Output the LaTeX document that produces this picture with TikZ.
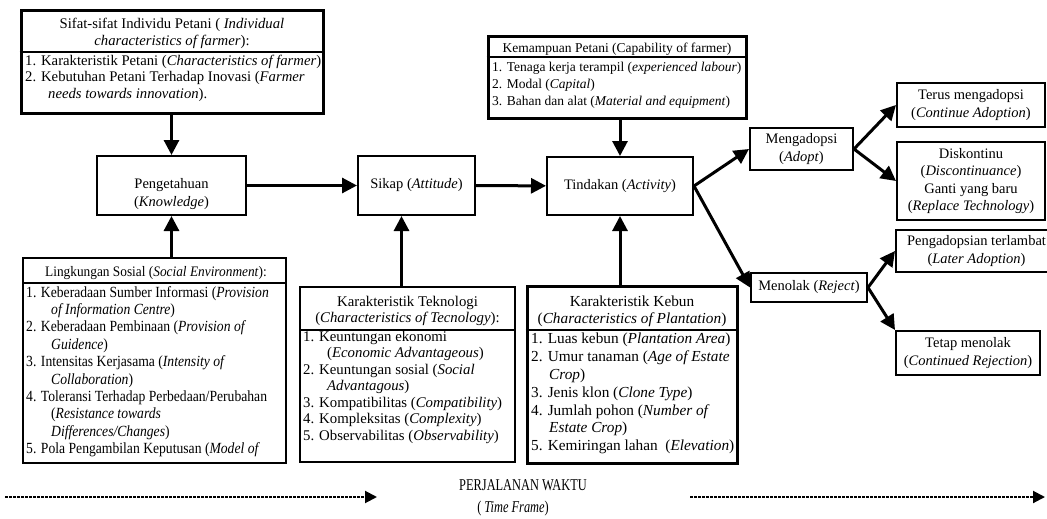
\documentclass[tikz,border=0pt]{standalone}
\usepackage{fontspec}
\setmainfont{Liberation Serif}
\usetikzlibrary{arrows.meta}
\newcommand{\fsz}[2]{\fontsize{#1}{#2}\selectfont}
\newcommand{\narrow}[1]{\addfontfeature{FakeStretch=#1}}
\begin{document}
\begin{tikzpicture}[x=1pt,y=-1pt,
  box/.style={draw,line width=2pt,inner sep=0pt},
  heavy/.style={box,line width=3pt},
  txt/.style={inner sep=0pt,align=center,font=\fsz{14.5}{17.5}},
  lst/.style={inner sep=0pt,align=left,anchor=north west},
  rule/.style={line width=1.2pt},
  arr/.style={line width=3pt,-{Triangle[length=15pt,width=15pt]}},
  tarr/.style={line width=2pt,dash pattern=on 3pt off 1pt,-{Triangle[length=12pt,width=12pt]}}]
\useasboundingbox (0,0) rectangle (1047,519);
\clip (0,0) rectangle (1047,519);
\node[heavy,minimum width=302pt,minimum height=102pt] (sifat) at (172,62) {};
\node[txt,font=\fsz{14.7}{16.7},anchor=north] (sifath) at (172,18) {Sifat-sifat Individu Petani ( \textit{Individual}\\\textit{characteristics of farmer}):};
\draw[rule] (sifat.west |- 0,52) -- (sifat.east |- 0,52);
\node[lst,font=\fsz{14.7}{16.3}] (sifatl) at (25,55) {1. Karakteristik Petani (\textit{Characteristics of farmer})\\2. Kebutuhan Petani Terhadap Inovasi (\textit{Farmer}\\\hspace*{23pt}\textit{needs towards innovation}).};
\node[box,minimum width=149pt,minimum height=59pt] (know) at (171.5,185.5) {};
\node[txt,font=\fsz{14.5}{18}] (knowt) at (171.5,194) {Pengetahuan\\(\textit{Knowledge})};
\node[box,txt,minimum width=117pt,minimum height=59pt] (sikap) at (416.5,185.5) {Sikap (\textit{Attitude})};
\node[box,txt,minimum width=146pt,minimum height=58pt] (tindakan) at (620,186) {Tindakan (\textit{Activity})};
\node[heavy,minimum width=258pt,minimum height=81pt] (mampu) at (617,77.5) {};
\node[txt,font=\fsz{13.5}{16},anchor=north] (mampuh) at (617,42.8) {Kemampuan Petani (Capability of farmer)};
\draw[rule] (mampu.west |- 0,57) -- (mampu.east |- 0,57);
\node[lst,font=\fsz{13.5}{17}] (mampul) at (492,61.8) {1. Tenaga kerja terampil (\textit{experienced labour})\\2. Modal (\textit{Capital})\\3. Bahan dan alat (\textit{Material and equipment})};
\node[box,txt,minimum width=103pt,minimum height=42pt] (adopsi) at (801.5,149) {Mengadopsi\\(\textit{Adopt})};
\node[box,txt,minimum width=148pt,minimum height=44pt] (terus) at (971,105) {Terus mengadopsi\\(\textit{Continue Adoption})};
\node[box,txt,minimum width=148pt,minimum height=78pt] (diskon) at (971,181) {Diskontinu\\(\textit{Discontinuance})\\Ganti yang baru\\(\textit{Replace Technology})};
\node[box,txt,minimum width=161pt,minimum height=42pt] (lambat) at (976.5,251) {Pengadopsian terlambat\\(\textit{Later Adoption})};
\node[box,txt,minimum width=116pt,minimum height=29pt] (tolak) at (809,287.5) {Menolak (\textit{Reject})};
\node[box,txt,minimum width=144pt,minimum height=44pt] (tetap) at (968,353) {Tetap menolak\\(\textit{Continued Rejection})};
\node[box,minimum width=263pt,minimum height=205pt] (sosial) at (154.5,360.5) {};
\node[txt,font=\fsz{14.5}{16}\narrow{0.92},anchor=north] (sosialh) at (156,266.5) {Lingkungan Sosial (\textit{Social Environment}):};
\draw[rule] (sosial.west |- 0,283) -- (sosial.east |- 0,283);
\node[lst,font=\fsz{15.5}{17.4}\narrow{0.88}] (sosiall) at (26,286) {1. Keberadaan Sumber Informasi (\textit{Provision}\\\hspace*{25pt}\textit{of Information Centre})\\2. Keberadaan Pembinaan (\textit{Provision of}\\\hspace*{25pt}\textit{Guidence})\\3. Intensitas Kerjasama (\textit{Intensity of}\\\hspace*{25pt}\textit{Collaboration})\\4. Toleransi Terhadap Perbedaan/Perubahan\\\hspace*{25pt}(\textit{Resistance towards}\\\hspace*{25pt}\textit{Differences/Changes})\\5. Pola Pengambilan Keputusan (\textit{Model of}};
\node[box,minimum width=215pt,minimum height=175pt] (tekno) at (407.5,374.5) {};
\node[txt,font=\fsz{14.8}{16},anchor=north] (teknoh) at (407.5,296) {Karakteristik Teknologi\\(\textit{Characteristics of Tecnology}):};
\draw[rule] (tekno.west |- 0,330) -- (tekno.east |- 0,330);
\node[lst,font=\fsz{14.8}{16.5}] (teknol) at (303,331) {1. Keuntungan ekonomi\\\hspace*{24pt}(\textit{Economic Advantageous})\\2. Keuntungan sosial (\textit{Social}\\\hspace*{24pt}\textit{Advantagous})\\3. Kompatibilitas (\textit{Compatibility})\\4. Kompleksitas (\textit{Complexity})\\5. Observabilitas (\textit{Observability})};
\node[heavy,minimum width=210pt,minimum height=177pt] (kebun) at (632,374.5) {};
\node[txt,font=\fsz{15.3}{16.5},anchor=north] (kebunh) at (632,296) {Karakteristik Kebun\\(\textit{Characteristics of Plantation})};
\draw[rule] (kebun.west |- 0,330) -- (kebun.east |- 0,330);
\node[lst,font=\fsz{15.3}{17.8}] (kebunl) at (531,333) {1. Luas kebun (\textit{Plantation Area})\\2. Umur tanaman (\textit{Age of Estate}\\\hspace*{18pt}\textit{Crop})\\3. Jenis klon (\textit{Clone Type})\\4. Jumlah pohon (\textit{Number of}\\\hspace*{18pt}\textit{Estate Crop})\\5. Kemiringan lahan~ (\textit{Elevation})};
\draw[arr] (know.north |- sifat.south) -- (know.north);
\draw[arr] (know.south |- sosial.north) -- (know.south);
\draw[arr] (know) -- (sikap);
\draw[arr] ([xshift=-6pt]tekno.north) -- ([xshift=-6pt]tekno.north |- sikap.south);
\draw[arr] (sikap) -- (tindakan);
\draw[arr] (tindakan.north |- mampu.south) -- (tindakan.north);
\draw[arr] (tindakan.south |- kebun.north) -- (tindakan.south);
\draw[arr] (tindakan.east) -- (adopsi.west);
\draw[arr] (tindakan.east) -- (tolak.west);
\draw[arr] (adopsi.east) -- (terus.west);
\draw[arr] (adopsi.east) -- (diskon.west);
\draw[arr] (tolak.east) -- (lambat.west);
\draw[arr] (tolak.east) -- (tetap.north west);
\coordinate (t0) at (5,497);
\coordinate (t1) at (377,497);
\coordinate (t2) at (690,497);
\coordinate (t3) at (1045,497);
\draw[tarr] (t0) -- (t1);
\draw[tarr] (t2) -- (t3);
\node[font=\fsz{16.5}{16}\narrow{0.75}] (waktu) at (523,485) {PERJALANAN WAKTU};
\node[font=\fsz{16.5}{16}\narrow{0.75}] (frame) at (513,509) {( \textit{Time Frame})};
\end{tikzpicture}
\end{document}
